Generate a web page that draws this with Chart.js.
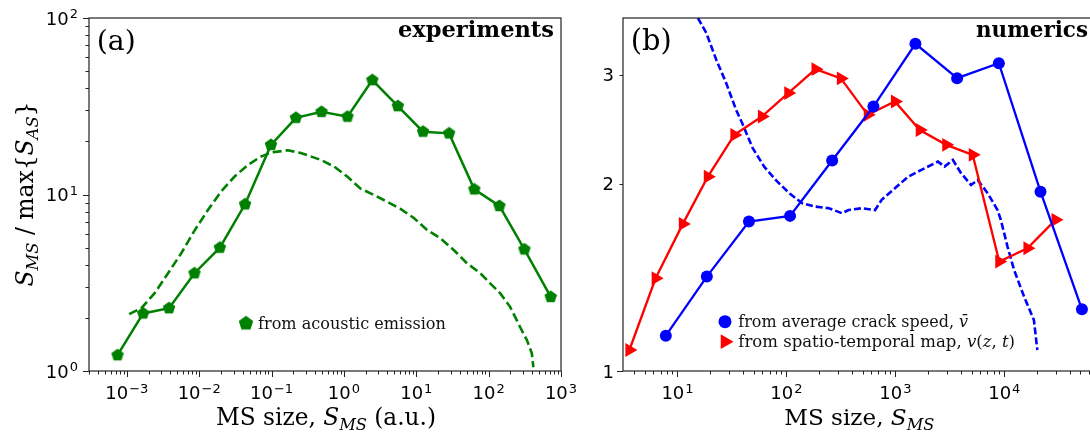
<!DOCTYPE html>
<html>
<head>
<meta charset="utf-8">
<script src="https://cdn.jsdelivr.net/npm/chart.js@4.4.1/dist/chart.umd.min.js"></script>
<style>
  html, body { margin: 0; padding: 0; background: #fff; overflow: hidden; }
  #wrap { position: relative; width: 1090px; height: 435px; overflow: hidden; }
  canvas { position: absolute; top: 0; }
  #chartA { left: 0; }
  #chartB { left: 580px; }
</style>
</head>
<body>
<div id="wrap">
  <canvas id="chartA" width="580" height="435"></canvas>
  <canvas id="chartB" width="520" height="435"></canvas>
</div>
<script>
// (a) experiments - acoustic emission (markers) and the dashed curve
const aeSize  = [7.43e-4, 1.68e-3, 3.83e-3, 8.61e-3, 0.0193, 0.0430, 0.0982, 0.217, 0.490, 1.12, 2.47, 5.56, 12.4, 28.4, 63.4, 141, 312, 721];
const aeValue = [1.23, 2.12, 2.27, 3.58, 5.00, 8.80, 19.1, 27.2, 29.4, 27.6, 44.5, 31.7, 22.7, 22.2, 10.7, 8.61, 4.89, 2.63];

const aeCurveSize  = [1.076e-3, 1.59e-3, 2.42e-3, 3.71e-3, 5.65e-3, 8.61e-3, 0.0132, 0.0201, 0.0306, 0.0469, 0.0714, 0.098, 0.167, 0.254, 0.479, 0.731, 1.12, 1.70, 2.60, 3.97, 6.06, 9.25, 14.1, 21.5, 32.9, 50.2, 76.6, 105, 144, 198, 273, 337, 395, 415];
const aeCurveValue = [2.10, 2.27, 2.76, 3.58, 4.65, 6.24, 8.17, 10.4, 12.6, 14.7, 16.4, 17.3, 17.8, 17.2, 15.7, 14.4, 12.6, 10.8, 9.94, 9.10, 8.28, 7.36, 6.29, 5.65, 4.85, 4.08, 3.58, 3.14, 2.76, 2.31, 1.77, 1.50, 1.26, 1.05];

// (b) numerics
const speedSize  = [7.82, 18.6, 45.3, 108, 263, 629, 1528, 3690, 8910, 21500, 51600];
const speedValue = [1.14, 1.419, 1.740, 1.777, 2.182, 2.665, 3.363, 2.960, 3.130, 1.944, 1.257];

const mapSize  = [3.62, 6.30, 11.2, 19.0, 33.3, 59.5, 104, 185, 316, 558, 991, 1675, 2930, 5130, 8990, 16300, 29500];
const mapValue = [1.081, 1.410, 1.725, 2.055, 2.399, 2.568, 2.801, 3.061, 2.958, 2.584, 2.715, 2.443, 2.312, 2.228, 1.500, 1.576, 1.751];

const numCurveSize  = [15.4, 18.4, 22.7, 28.0, 34.5, 39.6, 48.9, 62.5, 82.1, 108, 140, 185, 245, 323, 372, 492, 652, 749, 991, 1311, 1733, 2460, 2830, 3370, 4010, 4950, 5700, 7030, 8670, 9290, 10700, 12300, 15200, 18700, 20100];
const numCurveValue = [3.70, 3.50, 3.17, 2.907, 2.633, 2.498, 2.286, 2.133, 2.019, 1.928, 1.862, 1.839, 1.828, 1.795, 1.816, 1.828, 1.816, 1.886, 1.969, 2.055, 2.107, 2.173, 2.133, 2.187, 2.082, 1.993, 2.030, 1.933, 1.816, 1.751, 1.586, 1.454, 1.317, 1.208, 1.081];

// tick labels (decade exponents / plain values)
const aXTickExp = [-3, -2, -1, 0, 1, 2, 3];
const aYTickExp = [0, 1, 2];
const bXTickExp = [1, 2, 3, 4];
const bYTickLabels = ['1', '2', '3'];

const GREEN = '#008000';
const BLUE = '#0000ff';
const RED = '#ff0000';
const SERIF = '"DejaVu Serif"';

const xy = (xs, ys) => xs.map((x, i) => ({ x: x, y: ys[i] }));

function pentagon(r) {
    const s = Math.ceil(r * 2 + 2);
    const c = document.createElement('canvas');
    c.width = c.height = s;
    const g = c.getContext('2d');
    g.fillStyle = GREEN;
    g.beginPath();
    for (let i = 0; i < 5; i++) {
        const a = -Math.PI / 2 + i * 2 * Math.PI / 5;
        const px = s / 2 + r * Math.cos(a), py = s / 2 + r * Math.sin(a);
        if (i) g.lineTo(px, py); else g.moveTo(px, py);
    }
    g.closePath();
    g.fill();
    return c;
}
const pentaMark = pentagon(6.6);
const pentaLegend = pentagon(7.6);

// ---- drawing helpers ----
function logMinors(min, max) {
    const out = [];
    for (let k = Math.floor(Math.log10(min)); k <= Math.ceil(Math.log10(max)); k++) {
        for (let m = 2; m <= 9; m++) {
            const v = m * Math.pow(10, k);
            if (v >= min && v <= max) out.push(v);
        }
    }
    return out;
}

function tickMarks(chart, axis, values, len) {
    const ctx = chart.ctx, s = chart.scales[axis], a = chart.chartArea;
    ctx.beginPath();
    values.forEach(v => {
        const p = Math.round(s.getPixelForValue(v)) + 0.5;
        if (axis === 'x') { ctx.moveTo(p, a.bottom); ctx.lineTo(p, a.bottom + len); }
        else { ctx.moveTo(a.left, p); ctx.lineTo(a.left - len, p); }
    });
    ctx.stroke();
}

function powLabel(ctx, exp, x, base, align) {
    const e = exp < 0 ? '\u2212' + (-exp) : String(exp);
    ctx.font = '18px "DejaVu Sans"';
    const w1 = ctx.measureText('10').width + 1;
    ctx.font = '13px "DejaVu Sans"';
    const w2 = ctx.measureText(e).width;
    const x0 = align === 'right' ? x - w1 - w2 : x - (w1 + w2) / 2;
    ctx.textAlign = 'left';
    ctx.textBaseline = 'alphabetic';
    ctx.font = '18px "DejaVu Sans"';
    ctx.fillText('10', x0, base);
    ctx.font = '13px "DejaVu Sans"';
    ctx.fillText(e, x0 + w1, base - 6.5);
}

function runFont(r, size) {
    const s = r.sub ? size * 0.7 : size;
    return (r.it ? 'italic ' : '') + (r.bold ? 'bold ' : '') + s.toFixed(2) + 'px ' + SERIF;
}
function runsWidth(ctx, runs, size) {
    let w = 0;
    runs.forEach(r => { ctx.font = runFont(r, size); w += ctx.measureText(r.t).width; });
    return w;
}
// draws the pieces scaled so that they span the given width
function drawRuns(ctx, runs, x, y, width, align) {
    const size = 16 * width / runsWidth(ctx, runs, 16);
    let cx = align === 'center' ? x - width / 2 : align === 'right' ? x - width : x;
    ctx.textAlign = 'left';
    ctx.textBaseline = 'alphabetic';
    runs.forEach(r => {
        ctx.font = runFont(r, size);
        ctx.fillText(r.t, cx, y + (r.sub ? size * 0.22 : 0));
        cx += ctx.measureText(r.t).width;
    });
}

function drawFrame(chart) {
    const ctx = chart.ctx, a = chart.chartArea;
    ctx.strokeStyle = '#222';
    ctx.lineWidth = 1.2;
    ctx.strokeRect(a.left, a.top, a.right - a.left, a.bottom - a.top);
    ctx.lineWidth = 1;
}

const decorA = {
    id: 'decorA',
    afterDraw(chart) {
        const ctx = chart.ctx;
        const xs = chart.scales.x, ys = chart.scales.y;
        ctx.save();
        drawFrame(chart);
        tickMarks(chart, 'x', aXTickExp.map(e => Math.pow(10, e)), 6);
        tickMarks(chart, 'x', logMinors(xs.min, xs.max), 3.5);
        tickMarks(chart, 'y', aYTickExp.map(e => Math.pow(10, e)), 6);
        tickMarks(chart, 'y', logMinors(ys.min, ys.max), 3.5);

        ctx.fillStyle = '#000';
        aXTickExp.forEach(e => powLabel(ctx, e, xs.getPixelForValue(Math.pow(10, e)), 399, 'center'));
        aYTickExp.forEach(e => powLabel(ctx, e, 78, ys.getPixelForValue(Math.pow(10, e)) + 6.5, 'right'));

        drawRuns(ctx, [{ t: '(a)' }], 96.7, 50, 39, 'left');
        drawRuns(ctx, [{ t: 'experiments', bold: true }], 554, 37, 156, 'right');

        // legend
        ctx.drawImage(pentaLegend, 246 - pentaLegend.width / 2, 323.3 - pentaLegend.height / 2);
        ctx.fillStyle = '#111';
        drawRuns(ctx, [{ t: 'from acoustic emission' }], 258, 328.5, 188, 'left');

        // axis titles
        ctx.fillStyle = '#000';
        drawRuns(ctx, [{ t: 'MS size, ' }, { t: 'S', it: true }, { t: 'MS', it: true, sub: true }, { t: ' (a.u.)' }],
            326, 425, 220, 'center');
        ctx.save();
        ctx.translate(33, 194);
        ctx.rotate(-Math.PI / 2);
        drawRuns(ctx, [{ t: 'S', it: true }, { t: 'MS', it: true, sub: true }, { t: ' / max{' },
            { t: 'S', it: true }, { t: 'AS', it: true, sub: true }, { t: '}' }], 0, 0, 185, 'center');
        ctx.restore();
        ctx.restore();
    }
};

const decorB = {
    id: 'decorB',
    afterDraw(chart) {
        const ctx = chart.ctx;
        const xs = chart.scales.x, ys = chart.scales.y;
        ctx.save();
        drawFrame(chart);
        tickMarks(chart, 'x', bXTickExp.map(e => Math.pow(10, e)), 6);
        tickMarks(chart, 'x', logMinors(xs.min, xs.max), 3.5);
        tickMarks(chart, 'y', [1], 6);
        tickMarks(chart, 'y', [2, 3], 3.5);

        ctx.fillStyle = '#000';
        bXTickExp.forEach(e => powLabel(ctx, e, xs.getPixelForValue(Math.pow(10, e)), 399, 'center'));
        ctx.font = '18px "DejaVu Sans"';
        ctx.textAlign = 'right';
        ctx.textBaseline = 'alphabetic';
        bYTickLabels.forEach(t => ctx.fillText(t, 34, ys.getPixelForValue(Number(t)) + 6.5));

        drawRuns(ctx, [{ t: '(b)' }], 50.7, 50, 41, 'left');
        drawRuns(ctx, [{ t: 'numerics', bold: true }], 508, 37, 112, 'right');

        // legend
        ctx.fillStyle = BLUE;
        ctx.beginPath();
        ctx.arc(145, 321.7, 6.5, 0, Math.PI * 2);
        ctx.fill();
        ctx.fillStyle = RED;
        ctx.beginPath();
        for (let i = 0; i < 3; i++) {
            const a = i * 2 * Math.PI / 3;
            const px = 145 + 8.5 * Math.cos(a), py = 341.7 + 8.5 * Math.sin(a);
            if (i) ctx.lineTo(px, py); else ctx.moveTo(px, py);
        }
        ctx.closePath();
        ctx.fill();
        ctx.fillStyle = '#111';
        drawRuns(ctx, [{ t: 'from average crack speed, ' }, { t: 'v\u0304', it: true }], 158.3, 327.3, 230, 'left');
        drawRuns(ctx, [{ t: 'from spatio-temporal map, ' }, { t: 'v', it: true }, { t: '(' }, { t: 'z', it: true },
            { t: ', ' }, { t: 't', it: true }, { t: ')' }], 158.3, 346.7, 277, 'left');

        ctx.fillStyle = '#000';
        drawRuns(ctx, [{ t: 'MS size, ' }, { t: 'S', it: true }, { t: 'MS', it: true, sub: true }], 279.3, 425, 150, 'center');
        ctx.restore();
    }
};

function logAxis(min, max, fit) {
    return {
        type: 'logarithmic',
        min: min,
        max: max,
        ticks: { display: false },
        grid: { display: false },
        border: { display: false },
        title: { display: false },
        afterFit: fit
    };
}

const baseOptions = {
    responsive: false,
    devicePixelRatio: 1,
    animation: false,
    events: [],
    plugins: { legend: { display: false }, tooltip: { enabled: false } }
};

new Chart(document.getElementById('chartA').getContext('2d'), {
    type: 'line',
    data: {
        datasets: [{
            data: xy(aeSize, aeValue),
            borderColor: GREEN,
            borderWidth: 2.5,
            pointStyle: pentaMark,
            pointRadius: 6,
            tension: 0
        }, {
            data: xy(aeCurveSize, aeCurveValue),
            borderColor: GREEN,
            borderWidth: 2.6,
            borderDash: [9, 4],
            pointRadius: 0,
            tension: 0
        }]
    },
    options: Object.assign({}, baseOptions, {
        layout: { padding: { left: 0, right: 19, top: 18, bottom: 0 } },
        scales: {
            x: logAxis(Math.pow(10, -3.5), 1000, s => { s.height = 64; }),
            y: logAxis(1, 100, s => { s.width = 89; })
        }
    }),
    plugins: [decorA]
});

new Chart(document.getElementById('chartB').getContext('2d'), {
    type: 'line',
    data: {
        datasets: [{
            data: xy(speedSize, speedValue),
            borderColor: BLUE,
            backgroundColor: BLUE,
            borderWidth: 2.3,
            pointStyle: 'circle',
            pointRadius: 6,
            pointBorderWidth: 0,
            tension: 0
        }, {
            data: xy(mapSize, mapValue),
            borderColor: RED,
            backgroundColor: RED,
            borderWidth: 2.3,
            pointStyle: 'triangle',
            pointRotation: 90,
            pointRadius: 8,
            pointBorderWidth: 0,
            tension: 0
        }, {
            data: xy(numCurveSize, numCurveValue),
            borderColor: BLUE,
            borderWidth: 2.6,
            borderDash: [7, 3],
            pointRadius: 0,
            tension: 0
        }]
    },
    options: Object.assign({}, baseOptions, {
        layout: { padding: { left: 0, right: 5, top: 18, bottom: 0 } },
        scales: {
            x: logAxis(Math.pow(10, 0.5), Math.pow(10, 4.805), s => { s.height = 64; }),
            y: logAxis(1, 3.70, s => { s.width = 43; })
        }
    }),
    plugins: [decorB]
});
</script>
</body>
</html>
